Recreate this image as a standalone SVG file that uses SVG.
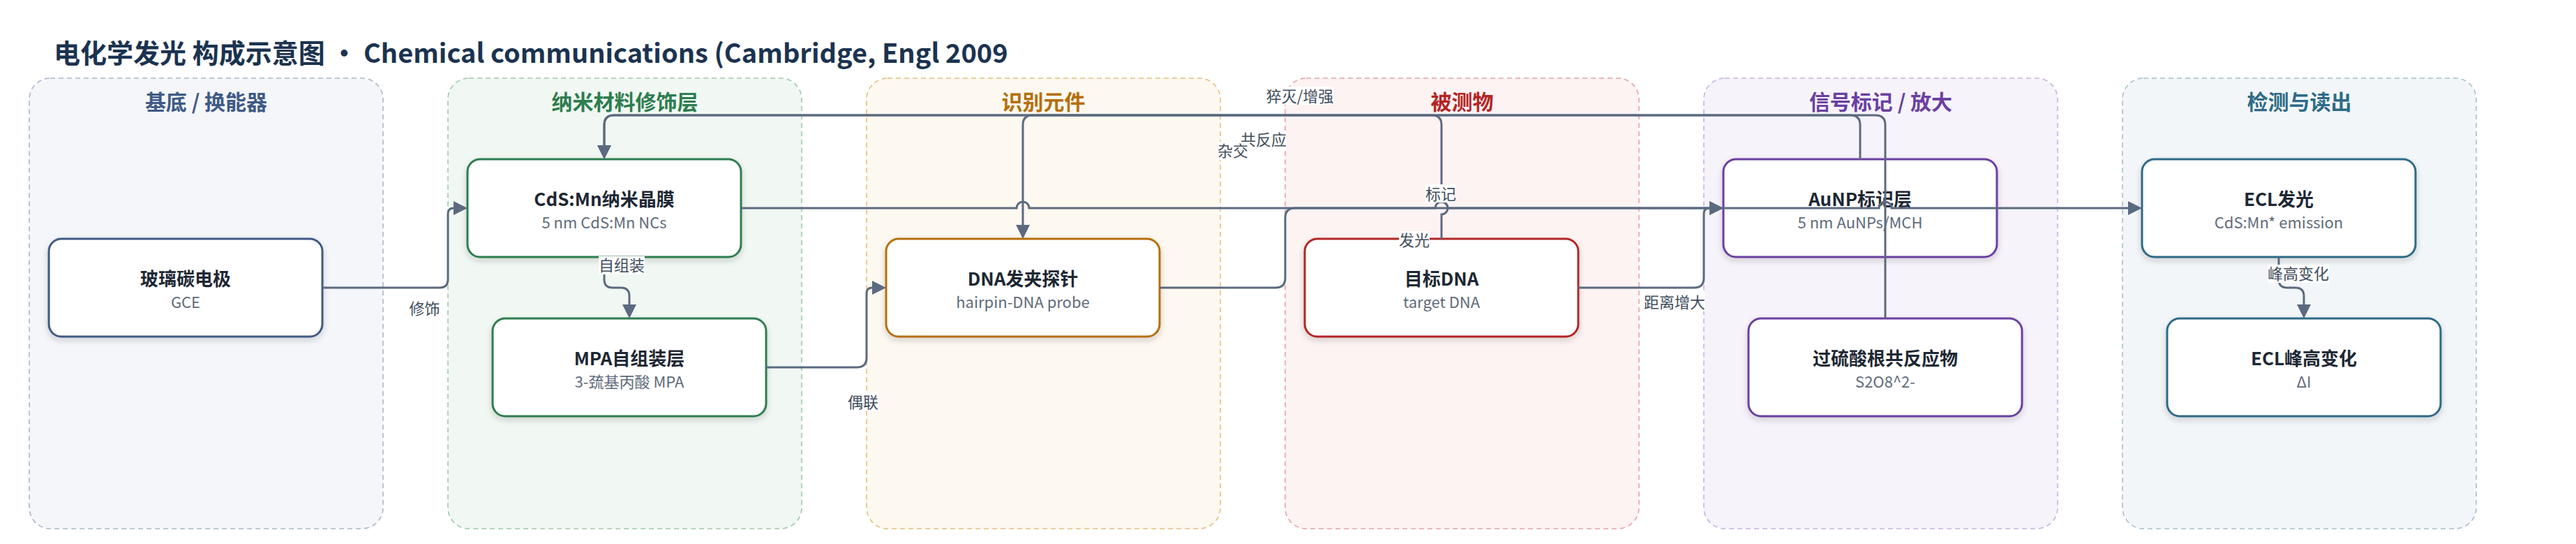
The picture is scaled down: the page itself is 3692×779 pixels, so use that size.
<svg xmlns="http://www.w3.org/2000/svg" width="3692" height="779" viewBox="0 0 3692 779">
<defs>
<style>
.title{font-family:"Noto Sans CJK SC","Noto Sans",sans-serif;font-size:38px;font-weight:700;fill:#1b3350}
.lane{stroke-width:1.6;stroke-dasharray:7 5}
.lh{font-family:"Noto Sans CJK SC","Noto Sans",sans-serif;font-size:30px;font-weight:700;text-anchor:middle}
.node{fill:#ffffff;stroke-width:3;filter:url(#sh)}
.nt{font-family:"Noto Sans CJK SC","Noto Sans",sans-serif;font-size:26px;font-weight:700;fill:#1d2733;text-anchor:middle}
.ns{font-family:"Noto Sans CJK SC","Noto Sans",sans-serif;font-size:22px;fill:#5f6b7b;text-anchor:middle}
.edge{fill:none;stroke:#5b6a7f;stroke-width:3}
.arr{marker-end:url(#ah)}
.lb rect{fill:#ffffff}
.lb text{font-family:"Noto Sans CJK SC","Noto Sans",sans-serif;font-size:22px;fill:#404c5c;text-anchor:middle}
</style>
<filter id="sh" x="-10%" y="-20%" width="120%" height="150%">
<feDropShadow dx="0" dy="4" stdDeviation="4" flood-color="#1d2733" flood-opacity="0.18"/>
</filter>
<marker id="ah" markerUnits="userSpaceOnUse" markerWidth="20" markerHeight="20" refX="1" refY="10" orient="auto">
<path d="M0,0 L20,10 L0,20 z" fill="#5b6a7f"/>
</marker>
</defs>
<rect width="3692" height="779" fill="#ffffff"/>
<text class="title" x="77" y="90">电化学发光 构成示意图 · Chemical communications (Cambridge, Engl 2009</text>

<g id="lanes">
<g id="lane1"><rect class="lane" x="42" y="112" width="507" height="645" rx="30" fill="#f4f6fa" stroke="#a9b6cb"/><text class="lh" x="295.5" y="157" fill="#3f5a84">基底 / 换能器</text></g>
<g id="lane2"><rect class="lane" x="642" y="112" width="507" height="645" rx="30" fill="#f1f8f3" stroke="#9ccaa9"/><text class="lh" x="895.5" y="157" fill="#2e7d4f">纳米材料修饰层</text></g>
<g id="lane3"><rect class="lane" x="1242" y="112" width="507" height="645" rx="30" fill="#fdf8f0" stroke="#e6bf7f"/><text class="lh" x="1495.5" y="157" fill="#b56f0a">识别元件</text></g>
<g id="lane4"><rect class="lane" x="1842" y="112" width="507" height="645" rx="30" fill="#fdf3f3" stroke="#e8a2a2"/><text class="lh" x="2095.5" y="157" fill="#b32626">被测物</text></g>
<g id="lane5"><rect class="lane" x="2442" y="112" width="507" height="645" rx="30" fill="#f6f3fb" stroke="#c6b2e2"/><text class="lh" x="2695.5" y="157" fill="#6b3fa0">信号标记 / 放大</text></g>
<g id="lane6"><rect class="lane" x="3042" y="112" width="507" height="645" rx="30" fill="#f2f6f8" stroke="#a3c0cd"/><text class="lh" x="3295.5" y="157" fill="#2e6a86">检测与读出</text></g>
</g>

<g id="nodes">
<g id="gce"><rect class="node" x="70" y="342" width="392" height="140" rx="18" stroke="#3f5a84"/><text class="nt" x="266" y="409">玻璃碳电极</text><text class="ns" x="266" y="441">GCE</text></g>
<g id="cds"><rect class="node" x="670" y="228" width="392" height="140" rx="18" stroke="#2e7d4f"/><text class="nt" x="866" y="295">CdS:Mn纳米晶膜</text><text class="ns" x="866" y="327">5 nm CdS:Mn NCs</text></g>
<g id="mpa"><rect class="node" x="706" y="456" width="392" height="140" rx="18" stroke="#2e7d4f"/><text class="nt" x="902" y="523">MPA自组装层</text><text class="ns" x="902" y="555">3-巯基丙酸 MPA</text></g>
<g id="probe"><rect class="node" x="1270" y="342" width="392" height="140" rx="18" stroke="#b56f0a"/><text class="nt" x="1466" y="409">DNA发夹探针</text><text class="ns" x="1466" y="441">hairpin-DNA probe</text></g>
<g id="target"><rect class="node" x="1870" y="342" width="392" height="140" rx="18" stroke="#b32626"/><text class="nt" x="2066" y="409">目标DNA</text><text class="ns" x="2066" y="441">target DNA</text></g>
<g id="aunp"><rect class="node" x="2470" y="228" width="392" height="140" rx="18" stroke="#6b3fa0"/><text class="nt" x="2666" y="295">AuNP标记层</text><text class="ns" x="2666" y="327">5 nm AuNPs/MCH</text></g>
<g id="s2o8"><rect class="node" x="2506" y="456" width="392" height="140" rx="18" stroke="#6b3fa0"/><text class="nt" x="2702" y="523">过硫酸根共反应物</text><text class="ns" x="2702" y="555">S2O8^2-</text></g>
<g id="ecl"><rect class="node" x="3070" y="228" width="392" height="140" rx="18" stroke="#2e6a86"/><text class="nt" x="3266" y="295">ECL发光</text><text class="ns" x="3266" y="327">CdS:Mn* emission</text></g>
<g id="di"><rect class="node" x="3106" y="456" width="392" height="140" rx="18" stroke="#2e6a86"/><text class="nt" x="3302" y="523">ECL峰高变化</text><text class="ns" x="3302" y="555">ΔI</text></g>
</g>

<g id="connectors">
<path class="edge arr" d="M462 412 H630 Q642 412 642 400 V306 Q642 298 650 298 H651"/>
<path class="edge arr" d="M866 368 V400 Q866 412 878 412 H890 Q902 412 902 424 V437"/>
<path class="edge arr" d="M1098 526 H1228 Q1242 526 1242 512 V420 Q1242 412 1250 412 H1251"/>
<path class="edge arr" d="M1662 412 H1828 Q1842 412 1842 398 V312 Q1842 298 1856 298 H2451"/>
<path class="edge arr" d="M2262 412 H2428 Q2442 412 2442 398 V306 Q2442 298 2450 298 H2451"/>
<path class="edge arr" d="M1062 298 H1457 A9 9 0 0 1 1475 298 H2057 A9 9 0 0 1 2075 298 H2693 A9 9 0 0 1 2711 298 H3051"/>
<path class="edge arr" d="M2666 228 V179 Q2666 165 2652 165 H880 Q866 165 866 179 V209"/>
<path class="edge arr" d="M2702 456 V179 Q2702 165 2688 165 H880 Q866 165 866 179 V209"/>
<path class="edge arr" d="M2066 342 V307 A9 9 0 0 0 2066 289 V179 Q2066 165 2052 165 H1480 Q1466 165 1466 179 V323"/>
<path class="edge arr" d="M3266 368 V400 Q3266 412 3278 412 H3290 Q3302 412 3302 424 V437"/>
</g>

<g id="edge-labels">
<g class="lb"><rect x="586" y="429" width="45" height="26"/><text x="608.5" y="450">修饰</text></g>
<g class="lb"><rect x="858" y="367" width="66" height="26"/><text x="891" y="388">自组装</text></g>
<g class="lb"><rect x="1215" y="562" width="44" height="26"/><text x="1237" y="583.5">偶联</text></g>
<g class="lb"><rect x="2043" y="264" width="44" height="26"/><text x="2065" y="285.5">标记</text></g>
<g class="lb"><rect x="2356" y="420" width="88" height="26"/><text x="2400" y="441">距离增大</text></g>
<g class="lb"><rect x="2005" y="331" width="44" height="26"/><text x="2027" y="352">发光</text></g>
<g class="lb"><rect x="1815" y="124" width="96" height="26"/><text x="1863" y="146">猝灭/增强</text></g>
<g class="lb"><rect x="1778" y="187" width="66" height="26"/><text x="1811" y="208">共反应</text></g>
<g class="lb"><rect x="1745" y="203" width="44" height="26"/><text x="1767" y="224">杂交</text></g>
<g class="lb"><rect x="3250" y="379" width="88" height="26"/><text x="3294" y="400">峰高变化</text></g>
</g>
</svg>
